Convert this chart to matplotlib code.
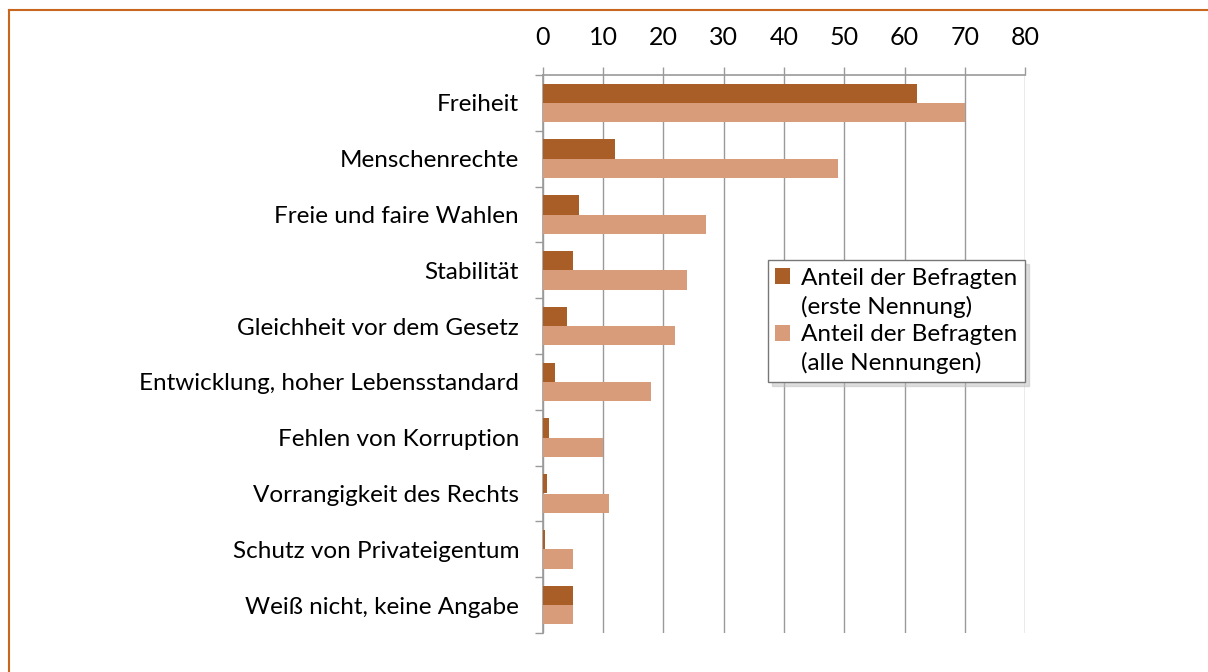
import numpy as np
import matplotlib
matplotlib.use("Agg")
import matplotlib.pyplot as plt
from matplotlib.lines import Line2D
from matplotlib.patches import Patch

plt.rc('font', family='Lato', size=17.5)

categories = ["Freiheit", "Menschenrechte", "Freie und faire Wahlen", "Stabilität",
              "Gleichheit vor dem Gesetz", "Entwicklung, hoher Lebensstandard",
              "Fehlen von Korruption", "Vorrangigkeit des Rechts",
              "Schutz von Privateigentum", "Weiß nicht, keine Angabe"]
erste = [62, 12, 6, 5, 4, 2, 1, 0.7, 0.4, 5]
alle = [70, 49, 27, 24, 22, 18, 10, 11, 5, 5]
labels = ["Anteil der Befragten", "(erste Nennung)",
          "Anteil der Befragten", "(alle Nennungen)"]
ticks = [0, 10, 20, 30, 40, 50, 60, 70, 80]

dark = "#A95D27"
light = "#D99C7A"
grid = "#9A9A9A"

fig = plt.figure(figsize=(12.08, 6.72), dpi=100, facecolor="white")
ax = fig.add_axes([542.7/1208, 1-633/672, 482.4/1208, 558/672])

y = np.arange(len(categories))
h = 0.345
ax.barh(y - h/2, erste, height=h, color=dark, zorder=3)
ax.barh(y + h/2, alle, height=h, color=light, zorder=3)

ax.set_xlim(0, 80)
ax.set_ylim(len(categories) - 0.5, -0.5)
ax.xaxis.tick_top()
ax.set_xticks(ticks)
ax.tick_params(axis="x", length=6, width=1, color=grid, pad=13, labelsize=18)
ax.set_yticks(y)
ax.set_yticklabels(categories)
ax.tick_params(axis="y", length=0, pad=17, labelsize=17.5)
ax.set_yticks(np.arange(len(categories) + 1) - 0.5, minor=True)
ax.tick_params(axis="y", which="minor", length=6, width=1, color=grid)
ax.xaxis.grid(True, color=grid, linewidth=1, zorder=0)
for s in ["right", "bottom"]:
    ax.spines[s].set_visible(False)
for s in ["left", "top"]:
    ax.spines[s].set_color(grid)
    ax.spines[s].set_linewidth(1.2)

# two-line entries: the second line of each gets an empty handle
handles = [Patch(facecolor=dark), Patch(facecolor="none", edgecolor="none"),
           Patch(facecolor=light), Patch(facecolor="none", edgecolor="none")]
leg = ax.legend(handles, labels, loc="upper right",
                bbox_to_anchor=(1025/1208, 1-260/672),
                bbox_transform=fig.transFigure, borderaxespad=0,
                frameon=True, fancybox=False,
                shadow={"color": "0.75", "ox": 3, "oy": -3},
                handlelength=0.6, handleheight=0.6,
                handletextpad=0.45, borderpad=0.32, labelspacing=0.28,
                fontsize=17.5)
leg.get_frame().set_edgecolor("#777777")
leg.get_frame().set_linewidth(1)

# orange frame of the page
orange = "#C8661E"
fig.add_artist(Line2D([9/1208, 1], [1-10/672, 1-10/672], color=orange, lw=1.5))
fig.add_artist(Line2D([9/1208, 9/1208], [0, 1-10/672], color=orange, lw=1.5))

fig.savefig("out.png", dpi=100)
